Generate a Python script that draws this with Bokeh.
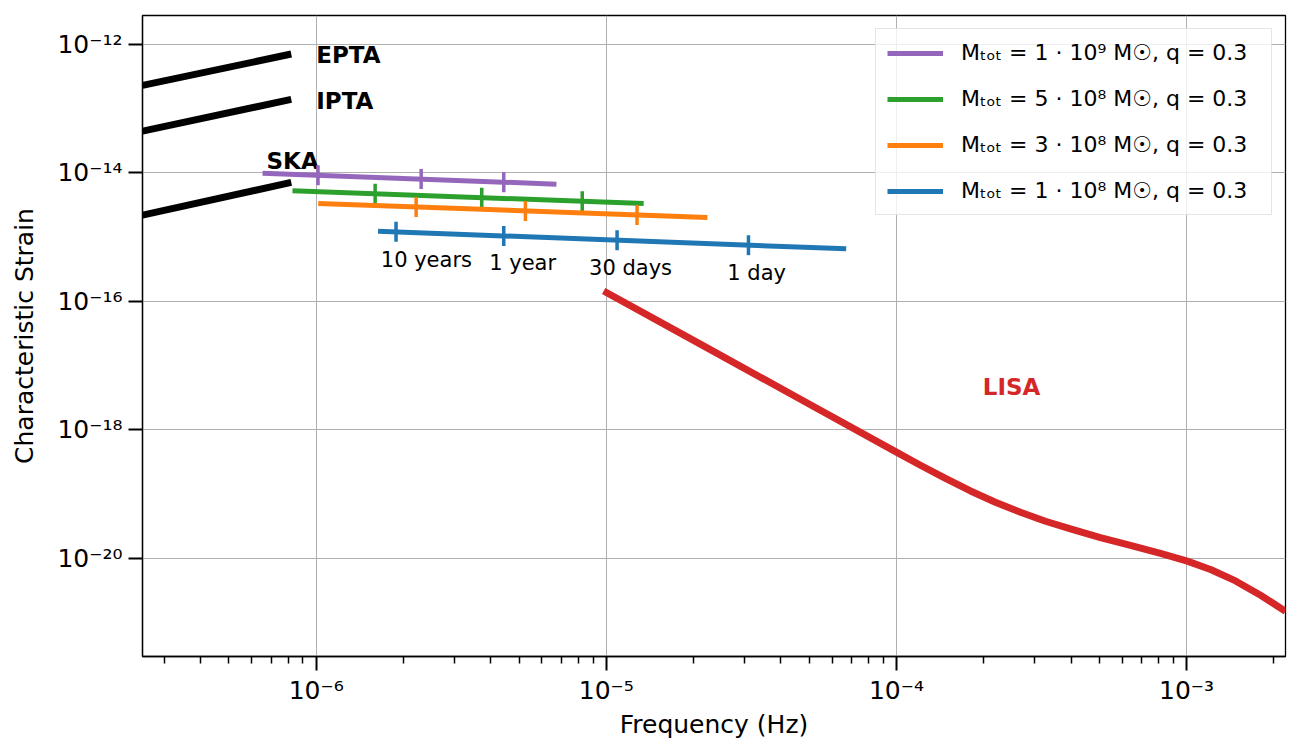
import numpy as np
from bokeh.plotting import figure
from bokeh.models import (Range1d, FixedTicker, CustomJSTickFormatter, Legend,
                          LegendItem)
from bokeh.core.properties import value
from bokeh.embed import file_html
from bokeh.resources import INLINE

FONT = "DejaVu Sans"

# ---------------- data ----------------
freq_limits = [2.518e-7, 2.194e-3]
strain_limits = [2.985e-22, 2.777e-12]

x_major_ticks = [1e-6, 1e-5, 1e-4, 1e-3]
y_major_ticks = [1e-20, 1e-18, 1e-16, 1e-14, 1e-12]

# pulsar timing array sensitivity segments
pta_freq = [2.518e-7, 8.2e-7]
epta_strain = [2.27e-13, 6.99e-13]
ipta_strain = [4.41e-14, 1.378e-13]
ska_strain = [2.18e-15, 7.04e-15]

pta_label_text = ["EPTA", "IPTA", "SKA"]
pta_label_freq = [1.0e-6, 1.0e-6, 6.74e-7]
pta_label_strain = [4.94e-13, 9.73e-14, 1.133e-14]

# LISA sensitivity curve
lisa_freq = [9.79e-6, 2.109e-5, 4.667e-5, 1.0e-4, 1.210e-4, 1.476e-4,
             1.800e-4, 2.194e-4, 2.677e-4, 3.264e-4, 3.981e-4, 5.05e-4,
             6.41e-4, 8.135e-4, 1.006e-3, 1.210e-3, 1.476e-3, 1.800e-3,
             2.194e-3]
lisa_strain = [1.445e-16, 2.15e-17, 2.99e-18, 4.51e-19, 2.81e-19, 1.753e-19,
               1.119e-19, 7.47e-20, 5.22e-20, 3.79e-20, 2.88e-20, 2.11e-20,
               1.593e-20, 1.197e-20, 9.08e-21, 6.74e-21, 4.47e-21, 2.68e-21,
               1.51e-21]
lisa_label = ["LISA"]
lisa_label_freq = [1.984e-4]
lisa_label_strain = [3.44e-18]

# binary tracks (total mass, q = 0.3)
bin_labels = [
    "Mₜₒₜ = 1 · 10⁹ M☉, q = 0.3",
    "Mₜₒₜ = 5 · 10⁸ M☉, q = 0.3",
    "Mₜₒₜ = 3 · 10⁸ M☉, q = 0.3",
    "Mₜₒₜ = 1 · 10⁸ M☉, q = 0.3",
]
bin_colors = ["#9467bd", "#2ca02c", "#ff7f0e", "#1f77b4"]

m1e9_freq = [6.53e-7, 6.73e-6]
m1e9_strain = [9.8e-15, 6.62e-15]
m1e9_tick_freq = [1.014e-6, 2.30e-6, 4.43e-6]
m1e9_tick_strain = [9.12e-15, 7.94e-15, 7.11e-15]

m5e8_freq = [8.28e-7, 1.345e-5]
m5e8_strain = [5.21e-15, 3.32e-15]
m5e8_tick_freq = [1.596e-6, 3.72e-6, 8.26e-6]
m5e8_tick_strain = [4.69e-15, 4.08e-15, 3.59e-15]

m3e8_freq = [1.016e-6, 2.23e-5]
m3e8_strain = [3.32e-15, 2.01e-15]
m3e8_tick_freq = [2.21e-6, 5.26e-6, 1.276e-5]
m3e8_tick_strain = [2.92e-15, 2.54e-15, 2.20e-15]

m1e8_freq = [1.633e-6, 6.71e-5]
m1e8_strain = [1.23e-15, 6.52e-16]
m1e8_tick_freq = [1.884e-6, 4.43e-6, 1.089e-5, 3.09e-5]
m1e8_tick_strain = [1.20e-15, 1.035e-15, 8.89e-16, 7.45e-16]

time_label_text = ["10 years", "1 year", "30 days", "1 day"]
time_label_freq = [2.397e-6, 5.145e-6, 1.212e-5, 3.296e-5]
time_label_strain = [3.23e-16, 2.86e-16, 2.45e-16, 2.0e-16]

# ---------------- figure ----------------
p = figure(x_axis_type="log", y_axis_type="log",
           x_range=Range1d(*freq_limits), y_range=Range1d(*strain_limits),
           frame_width=1143, frame_height=641,
           min_border_left=142, min_border_right=10, min_border_top=15,
           min_border_bottom=78,
           output_backend="svg", toolbar_location=None,
           background_fill_color="white", border_fill_color="white")

x_minor = [k * 10.0 ** e for e in range(-7, -2) for k in range(2, 10)]
p.xaxis.ticker = FixedTicker(ticks=x_major_ticks, minor_ticks=x_minor)
p.yaxis.ticker = FixedTicker(ticks=y_major_ticks, minor_ticks=[])

fmt_code = """
const sup = {"-": "\\u207b", "0": "\\u2070", "1": "\\u00b9", "2": "\\u00b2",
             "3": "\\u00b3", "4": "\\u2074", "5": "\\u2075", "6": "\\u2076",
             "7": "\\u2077", "8": "\\u2078", "9": "\\u2079"};
const e = Math.round(Math.log10(tick));
let s = "";
for (const c of String(e)) { s += sup[c]; }
return "10" + s;
"""
for ax in (p.xaxis[0], p.yaxis[0]):
    ax.formatter = CustomJSTickFormatter(code=fmt_code)
    ax.major_tick_out = 14
    ax.major_tick_in = 0
    ax.minor_tick_out = 7
    ax.minor_tick_in = 0
    ax.major_tick_line_width = 2
    ax.minor_tick_line_width = 1.5
    ax.major_tick_line_color = "black"
    ax.minor_tick_line_color = "black"
    ax.axis_line_color = "black"
    ax.axis_line_width = 1.3
    ax.major_label_text_font = FONT
    ax.major_label_text_font_size = "25px"
    ax.major_label_text_color = "black"
    ax.axis_label_text_font = FONT
    ax.axis_label_text_font_size = "25px"
    ax.axis_label_text_font_style = "normal"
    ax.axis_label_text_color = "black"

p.xaxis.major_label_standoff = 5
p.yaxis.major_label_standoff = 6
p.xaxis.axis_label_standoff = 2
p.yaxis.axis_label_standoff = 15

p.xaxis.axis_label = "Frequency (Hz)"
p.yaxis.axis_label = "Characteristic Strain"

for g in (p.xgrid[0], p.ygrid[0]):
    g.grid_line_color = "#b0b0b0"
    g.grid_line_width = 1

p.outline_line_color = "black"
p.outline_line_width = 1.3

TEXT_SHIFT = -8.5  # screen-pixel correction for baseline placement

# PTA lines
for s in (epta_strain, ipta_strain, ska_strain):
    p.line(pta_freq, s, line_color="black", line_width=7)
p.text(x=pta_label_freq, y=pta_label_strain, text=pta_label_text,
       text_font=value(FONT), text_font_style="bold", text_font_size="23px",
       text_align="left", text_baseline="alphabetic", text_color="black",
       y_offset=TEXT_SHIFT)

# LISA
p.line(lisa_freq, lisa_strain, line_color="#d62728", line_width=7,
       line_join="round")
p.text(x=lisa_label_freq, y=lisa_label_strain, text=lisa_label,
       text_font=value(FONT), text_font_style="bold", text_font_size="23px",
       text_align="left", text_baseline="alphabetic", text_color="#d62728",
       y_offset=TEXT_SHIFT)

# binaries
tracks = [
    (m1e9_freq, m1e9_strain, m1e9_tick_freq, m1e9_tick_strain),
    (m5e8_freq, m5e8_strain, m5e8_tick_freq, m5e8_tick_strain),
    (m3e8_freq, m3e8_strain, m3e8_tick_freq, m3e8_tick_strain),
    (m1e8_freq, m1e8_strain, m1e8_tick_freq, m1e8_tick_strain),
]
items = []
for (fq, st, tf, ts), col, lab in zip(tracks, bin_colors, bin_labels):
    r = p.line(fq, st, line_color=col, line_width=5)
    p.scatter(tf, ts, marker="dash", angle=np.pi / 2, size=20,
              line_color=col, line_width=3.5)
    items.append(LegendItem(label=lab, renderers=[r]))

p.text(x=time_label_freq, y=time_label_strain, text=time_label_text,
       text_font=value(FONT), text_font_size="21px", text_align="center",
       text_baseline="alphabetic", text_color="black", y_offset=TEXT_SHIFT)

legend = Legend(items=items, location="top_right",
                label_text_font=FONT, label_text_font_size="22px",
                label_text_color="black", label_width=299,
                glyph_width=56, glyph_height=24, label_height=24,
                spacing=21, padding=11, margin=13, label_standoff=18,
                border_line_color="#cccccc", border_line_width=1,
                background_fill_color="white", background_fill_alpha=0.8)
p.add_layout(legend)

open("out.html", "w").write(file_html(p, INLINE))
